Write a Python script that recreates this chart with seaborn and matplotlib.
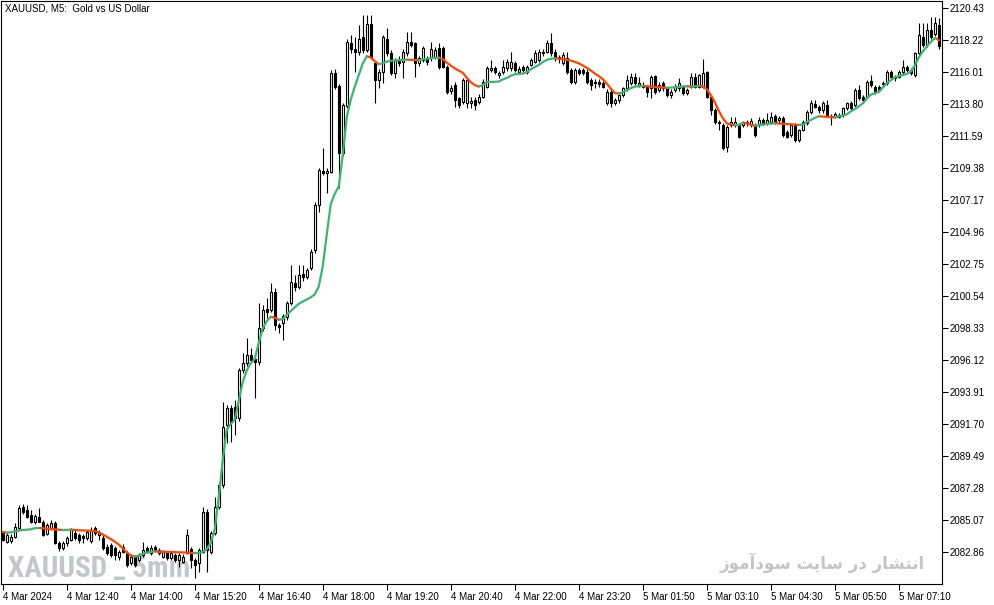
import numpy as np
import pandas as pd
import matplotlib
matplotlib.use("Agg")
import matplotlib.pyplot as plt
import seaborn as sns

# XAUUSD M5, 4 Mar 2024 11:20 -> 5 Mar 2024 07:55 (235 bars)
tick_bars = [0, 16, 32, 48, 64, 80, 96, 112, 128, 144, 160, 176, 192, 208, 224]
tick_labels = ["4 Mar 2024", "4 Mar 12:40", "4 Mar 14:00", "4 Mar 15:20", "4 Mar 16:40",
               "4 Mar 18:00", "4 Mar 19:20", "4 Mar 20:40", "4 Mar 22:00", "4 Mar 23:20",
               "5 Mar 01:50", "5 Mar 03:10", "5 Mar 04:30", "5 Mar 05:50", "5 Mar 07:10"]
price_ticks = [2082.86, 2085.07, 2087.28, 2089.49, 2091.70, 2093.91, 2096.12, 2098.33, 2100.54,
               2102.75, 2104.96, 2107.17, 2109.38, 2111.59, 2113.80, 2116.01, 2118.22, 2120.43]

opens = [
    2084.15, 2083.57, 2083.60, 2083.90, 2084.50, 2086.00, 2085.75, 2085.40, 2084.96, 2085.30,
    2084.96, 2084.10, 2084.50, 2084.84, 2083.50, 2083.11, 2083.46, 2083.69, 2084.20, 2084.03,
    2083.95, 2083.80, 2083.60, 2084.49, 2084.03, 2083.80, 2083.23, 2083.34, 2083.11, 2082.54,
    2083.23, 2082.77, 2082.08, 2082.54, 2082.31, 2082.65, 2083.11, 2082.77, 2083.23, 2082.77,
    2082.54, 2082.77, 2082.42, 2082.65, 2082.31, 2082.19, 2082.82, 2083.05, 2082.31, 2082.08,
    2082.89, 2085.65, 2082.89, 2084.15, 2086.00, 2087.49, 2091.64, 2092.79, 2092.90, 2092.10,
    2095.43, 2095.89, 2096.47, 2096.20, 2095.95, 2098.31, 2099.62, 2099.58, 2100.84, 2098.54,
    2098.66, 2099.12, 2100.04, 2101.46, 2101.18, 2102.06, 2101.87, 2102.45, 2103.70, 2106.82,
    2109.20, 2109.00, 2109.13, 2115.92, 2115.04, 2110.39, 2113.66, 2117.99, 2117.57, 2117.41,
    2118.45, 2117.53, 2119.32, 2116.61, 2115.46, 2116.03, 2118.26, 2117.30, 2115.96, 2116.84,
    2116.72, 2117.30, 2118.10, 2117.99, 2116.61, 2116.84, 2116.95, 2116.95, 2117.07, 2117.64,
    2117.64, 2116.38, 2114.72, 2115.11, 2114.19, 2113.96, 2113.84, 2113.90, 2114.07, 2113.96,
    2114.30, 2115.00, 2116.15, 2116.26, 2115.80, 2116.03, 2116.26, 2116.26, 2116.61, 2116.03,
    2116.38, 2116.03, 2116.50, 2116.72, 2116.84, 2117.41, 2117.41, 2118.03, 2117.41, 2117.07,
    2116.61, 2116.95, 2116.15, 2115.34, 2116.15, 2116.15, 2116.03, 2115.46, 2115.34, 2115.34,
    2115.23, 2113.85, 2114.65, 2113.89, 2114.08, 2114.42, 2114.88, 2115.23, 2115.69, 2115.10,
    2115.00, 2115.00, 2114.88, 2115.73, 2114.77, 2115.23, 2114.88, 2114.42, 2114.77, 2114.88,
    2115.00, 2114.54, 2115.00, 2115.69, 2115.00, 2115.00, 2116.03, 2114.31, 2113.39, 2112.47,
    2112.35, 2110.85, 2112.35, 2112.35, 2112.35, 2112.35, 2112.58, 2112.35, 2112.35, 2112.35,
    2112.70, 2112.47, 2112.58, 2112.97, 2112.69, 2112.81, 2111.89, 2111.66, 2112.35, 2111.31,
    2112.00, 2112.46, 2113.27, 2113.78, 2113.61, 2113.38, 2113.73, 2112.97, 2112.92, 2113.04,
    2113.04, 2113.50, 2113.84, 2113.73, 2114.77, 2114.30, 2114.30, 2115.41, 2114.99, 2114.99,
    2115.18, 2115.23, 2116.03, 2115.69, 2115.69, 2116.03, 2116.38, 2116.15, 2115.80, 2117.30,
    2118.45, 2117.87, 2118.91, 2118.63, 2119.25]
highs = [
    2084.30, 2084.20, 2084.10, 2084.85, 2086.10, 2086.15, 2086.10, 2085.76, 2085.50, 2085.87,
    2085.10, 2084.85, 2085.07, 2085.00, 2083.60, 2083.60, 2083.95, 2084.55, 2084.45, 2084.15,
    2084.10, 2084.40, 2084.61, 2084.65, 2084.40, 2084.00, 2083.40, 2083.50, 2083.30, 2083.00,
    2083.40, 2082.90, 2082.70, 2082.65, 2082.80, 2083.57, 2083.30, 2083.34, 2083.34, 2083.15,
    2083.00, 2082.90, 2082.90, 2082.77, 2082.80, 2082.70, 2084.43, 2083.20, 2082.45, 2083.15,
    2086.00, 2085.80, 2084.30, 2086.69, 2087.70, 2093.25, 2093.00, 2093.00, 2093.36, 2095.60,
    2096.58, 2097.62, 2096.93, 2096.60, 2100.04, 2099.90, 2100.38, 2101.47, 2101.10, 2098.70,
    2099.30, 2100.20, 2102.70, 2102.00, 2102.68, 2102.68, 2102.50, 2103.80, 2107.00, 2109.40,
    2110.74, 2109.40, 2116.15, 2116.20, 2115.20, 2113.90, 2118.30, 2118.56, 2118.45, 2119.25,
    2119.94, 2119.94, 2119.94, 2116.80, 2116.20, 2118.56, 2119.02, 2117.50, 2117.00, 2117.10,
    2117.60, 2118.79, 2118.79, 2118.10, 2117.10, 2117.80, 2117.10, 2118.10, 2117.70, 2117.99,
    2117.80, 2116.50, 2115.10, 2115.30, 2114.30, 2115.60, 2115.60, 2114.30, 2114.30, 2114.50,
    2115.50, 2116.40, 2116.84, 2116.40, 2116.10, 2116.84, 2116.90, 2117.41, 2116.80, 2116.40,
    2116.50, 2116.50, 2117.00, 2117.50, 2117.60, 2117.60, 2118.20, 2118.68, 2117.60, 2117.20,
    2117.40, 2117.41, 2116.30, 2116.30, 2116.30, 2116.26, 2116.20, 2115.60, 2115.50, 2115.50,
    2115.40, 2114.80, 2114.80, 2114.20, 2114.50, 2115.00, 2115.80, 2115.92, 2115.92, 2115.69,
    2115.30, 2115.10, 2115.80, 2115.80, 2115.30, 2115.40, 2115.00, 2114.80, 2115.20, 2115.57,
    2115.10, 2114.90, 2115.96, 2115.92, 2115.90, 2116.89, 2116.10, 2114.40, 2113.50, 2112.70,
    2112.50, 2112.35, 2112.93, 2112.93, 2112.47, 2112.65, 2112.70, 2112.80, 2112.47, 2112.93,
    2112.80, 2113.16, 2113.27, 2113.10, 2113.00, 2112.95, 2112.00, 2112.50, 2112.46, 2112.10,
    2112.70, 2113.40, 2114.07, 2114.07, 2113.70, 2114.00, 2114.07, 2113.10, 2113.25, 2113.15,
    2113.60, 2113.95, 2114.00, 2114.90, 2115.11, 2114.40, 2115.45, 2115.80, 2115.10, 2115.10,
    2115.40, 2116.15, 2116.15, 2115.80, 2116.15, 2116.84, 2116.50, 2116.30, 2117.40, 2119.37,
    2119.37, 2119.37, 2119.83, 2119.83, 2119.71]
lows = [
    2083.60, 2083.50, 2083.45, 2083.85, 2084.40, 2085.50, 2085.20, 2084.85, 2084.80, 2084.90,
    2083.95, 2084.00, 2084.40, 2083.40, 2082.90, 2083.00, 2083.30, 2083.60, 2083.70, 2083.50,
    2083.46, 2083.70, 2083.50, 2084.00, 2083.69, 2083.00, 2082.65, 2082.50, 2082.31, 2082.31,
    2082.77, 2081.84, 2081.96, 2081.84, 2082.20, 2082.54, 2082.77, 2082.65, 2082.90, 2082.65,
    2082.42, 2082.31, 2082.31, 2082.19, 2081.84, 2082.08, 2082.70, 2081.74, 2081.05, 2081.50,
    2082.80, 2081.51, 2082.70, 2084.00, 2085.80, 2087.30, 2090.37, 2090.49, 2090.95, 2091.90,
    2095.20, 2095.70, 2095.90, 2093.48, 2095.80, 2098.10, 2099.00, 2099.40, 2098.20, 2097.97,
    2097.51, 2098.90, 2099.90, 2100.90, 2101.00, 2101.60, 2101.70, 2102.30, 2103.50, 2106.36,
    2108.90, 2107.67, 2109.00, 2114.80, 2107.97, 2110.20, 2113.50, 2117.30, 2116.03, 2117.20,
    2117.30, 2117.40, 2116.90, 2113.84, 2114.88, 2115.23, 2117.10, 2115.80, 2115.57, 2116.40,
    2115.57, 2117.10, 2117.70, 2115.69, 2116.40, 2116.70, 2116.50, 2116.80, 2116.90, 2116.20,
    2116.26, 2114.50, 2114.50, 2113.61, 2113.50, 2113.80, 2113.50, 2113.50, 2113.38, 2113.80,
    2114.20, 2114.90, 2116.00, 2115.90, 2115.60, 2115.90, 2116.10, 2116.10, 2116.00, 2115.90,
    2116.00, 2115.90, 2116.40, 2116.60, 2116.70, 2117.10, 2117.30, 2117.10, 2116.80, 2116.60,
    2116.50, 2115.90, 2115.20, 2115.20, 2115.80, 2115.80, 2115.20, 2114.76, 2114.90, 2115.00,
    2114.90, 2113.70, 2113.62, 2113.70, 2113.90, 2114.30, 2114.70, 2115.10, 2115.10, 2115.00,
    2114.90, 2114.31, 2114.19, 2114.50, 2114.60, 2114.70, 2114.30, 2114.19, 2114.60, 2114.70,
    2114.40, 2114.40, 2114.90, 2114.90, 2114.90, 2114.90, 2114.20, 2113.04, 2112.40, 2112.01,
    2110.62, 2110.51, 2112.20, 2112.20, 2111.43, 2112.20, 2112.30, 2112.20, 2111.55, 2112.20,
    2112.35, 2112.35, 2112.45, 2112.45, 2112.50, 2111.55, 2111.43, 2111.55, 2111.20, 2111.20,
    2111.90, 2112.35, 2113.10, 2113.50, 2113.20, 2113.20, 2112.90, 2112.35, 2112.80, 2112.80,
    2112.90, 2113.40, 2113.40, 2113.60, 2114.07, 2113.84, 2114.20, 2115.00, 2114.50, 2114.60,
    2115.00, 2115.10, 2115.57, 2115.41, 2115.57, 2115.90, 2116.03, 2115.80, 2115.69, 2117.20,
    2117.70, 2117.70, 2118.30, 2118.50, 2117.60]
closes = [
    2083.69, 2084.03, 2083.90, 2084.60, 2085.87, 2085.65, 2085.30, 2084.96, 2085.35, 2084.96,
    2084.03, 2084.73, 2084.84, 2083.46, 2083.11, 2083.46, 2083.80, 2084.38, 2083.80, 2083.69,
    2083.80, 2084.27, 2084.38, 2084.15, 2084.27, 2083.11, 2082.77, 2082.65, 2082.65, 2082.88,
    2082.88, 2081.96, 2082.54, 2081.96, 2082.65, 2083.00, 2082.88, 2083.11, 2083.00, 2083.00,
    2082.88, 2082.42, 2082.77, 2082.31, 2082.65, 2082.54, 2084.04, 2082.31, 2081.97, 2083.00,
    2085.65, 2083.00, 2084.15, 2086.00, 2087.49, 2091.52, 2092.79, 2091.87, 2092.10, 2095.43,
    2095.89, 2096.47, 2096.12, 2095.95, 2098.31, 2099.58, 2099.45, 2100.84, 2098.54, 2098.38,
    2099.16, 2100.04, 2101.50, 2101.18, 2101.99, 2101.87, 2102.33, 2103.60, 2106.82, 2109.24,
    2109.00, 2109.20, 2115.92, 2115.00, 2110.39, 2113.73, 2118.10, 2117.57, 2117.41, 2118.26,
    2117.53, 2119.32, 2117.07, 2115.46, 2116.03, 2118.45, 2117.30, 2115.96, 2116.84, 2116.61,
    2117.41, 2118.10, 2117.87, 2116.61, 2116.95, 2117.64, 2116.72, 2117.57, 2117.53, 2116.38,
    2116.38, 2114.65, 2114.88, 2114.07, 2113.73, 2115.46, 2115.46, 2114.00, 2113.73, 2114.30,
    2115.34, 2116.26, 2116.26, 2116.03, 2115.92, 2116.38, 2116.72, 2116.72, 2116.15, 2116.20,
    2116.15, 2116.38, 2116.84, 2117.30, 2117.41, 2117.30, 2117.99, 2117.30, 2116.95, 2116.90,
    2117.18, 2116.03, 2115.34, 2116.15, 2115.92, 2115.92, 2115.34, 2115.11, 2115.23, 2115.20,
    2115.00, 2114.65, 2113.85, 2114.08, 2114.42, 2114.88, 2115.46, 2115.69, 2115.23, 2115.23,
    2115.11, 2114.65, 2115.69, 2114.65, 2115.11, 2114.88, 2114.42, 2114.65, 2115.00, 2115.23,
    2114.54, 2114.77, 2115.69, 2115.00, 2115.80, 2115.96, 2114.31, 2113.39, 2112.58, 2112.58,
    2110.74, 2112.24, 2112.58, 2112.58, 2111.55, 2112.51, 2112.47, 2112.65, 2111.66, 2112.70,
    2112.47, 2112.70, 2112.93, 2112.58, 2112.81, 2111.66, 2111.54, 2112.35, 2111.31, 2112.00,
    2112.58, 2113.27, 2113.84, 2113.61, 2113.38, 2113.84, 2113.04, 2112.88, 2113.11, 2112.92,
    2113.50, 2113.84, 2113.50, 2114.77, 2114.19, 2114.07, 2115.34, 2115.11, 2114.65, 2114.77,
    2115.27, 2116.03, 2115.69, 2115.57, 2116.03, 2116.38, 2116.15, 2115.92, 2117.30, 2118.56,
    2117.87, 2118.91, 2118.45, 2119.37, 2117.80]
# smoothed moving average shown on the chart
ma_values = [
    2084.24, 2084.20, 2084.22, 2084.28, 2084.34, 2084.38, 2084.40, 2084.42, 2084.50, 2084.52,
    2084.50, 2084.47, 2084.45, 2084.42, 2084.40, 2084.38, 2084.39, 2084.40, 2084.38, 2084.36,
    2084.35, 2084.34, 2084.33, 2084.30, 2084.22, 2084.08, 2083.92, 2083.76, 2083.58, 2083.38,
    2083.12, 2082.85, 2082.62, 2082.54, 2082.62, 2082.74, 2082.82, 2082.87, 2082.90, 2082.89,
    2082.88, 2082.87, 2082.86, 2082.85, 2082.84, 2082.83, 2082.82, 2082.80, 2082.79, 2082.80,
    2082.86, 2083.05, 2083.50, 2084.40, 2086.60, 2089.20, 2091.30, 2091.70, 2092.00, 2093.30,
    2094.60, 2095.40, 2095.90, 2096.20, 2097.30, 2098.30, 2098.80, 2099.10, 2099.05, 2098.90,
    2098.95, 2099.25, 2099.50, 2099.75, 2100.00, 2100.15, 2100.30, 2100.45, 2100.65, 2101.20,
    2102.60, 2104.80, 2106.90, 2107.60, 2108.10, 2110.30, 2112.90, 2114.10, 2115.00, 2115.80,
    2116.60, 2117.10, 2117.00, 2116.75, 2116.55, 2116.62, 2116.72, 2116.78, 2116.80, 2116.82,
    2116.84, 2116.86, 2116.85, 2116.83, 2116.82, 2116.88, 2116.92, 2116.95, 2116.98, 2117.00,
    2116.90, 2116.65, 2116.45, 2116.25, 2116.10, 2115.95, 2115.60, 2115.30, 2115.10, 2115.00,
    2115.10, 2115.30, 2115.32, 2115.33, 2115.35, 2115.50, 2115.60, 2115.75, 2115.85, 2115.88,
    2115.90, 2116.00, 2116.20, 2116.35, 2116.50, 2116.70, 2116.85, 2116.92, 2116.95, 2116.93,
    2116.90, 2116.85, 2116.80, 2116.70, 2116.60, 2116.45, 2116.30, 2116.10, 2115.90, 2115.72,
    2115.50, 2115.20, 2114.85, 2114.55, 2114.52, 2114.60, 2114.75, 2114.90, 2115.00, 2115.02,
    2115.04, 2115.03, 2115.00, 2114.98, 2114.96, 2114.94, 2114.92, 2114.93, 2114.95, 2114.98,
    2115.00, 2115.02, 2115.00, 2115.02, 2115.05, 2115.00, 2114.80, 2114.40, 2113.90, 2113.30,
    2112.80, 2112.45, 2112.38, 2112.33, 2112.36, 2112.50, 2112.45, 2112.35, 2112.30, 2112.34,
    2112.38, 2112.42, 2112.45, 2112.47, 2112.45, 2112.43, 2112.41, 2112.39, 2112.37, 2112.35,
    2112.40, 2112.55, 2112.70, 2112.85, 2112.95, 2112.93, 2112.91, 2112.89, 2112.87, 2112.95,
    2113.00, 2113.10, 2113.30, 2113.45, 2113.65, 2113.85, 2114.20, 2114.45, 2114.55, 2114.65,
    2114.95, 2115.25, 2115.45, 2115.65, 2115.72, 2115.80, 2115.90, 2116.05, 2116.50, 2117.05,
    2117.45, 2117.80, 2118.10, 2118.35, 2118.20]

df = pd.DataFrame({"open": opens, "high": highs, "low": lows, "close": closes})
df["bar"] = np.arange(len(df))
df["bull"] = df["close"] >= df["open"]
df["body_low"] = df[["open", "close"]].min(axis=1)
df["body_h"] = (df["close"] - df["open"]).abs()

# split the MA into runs of rising / falling segments
ma = np.array(ma_values)
runs = []
run_id = 0
prev = None
for i in range(1, len(ma)):
    d = "up" if ma[i] >= ma[i - 1] else "down"
    if d != prev:
        run_id += 1
        runs.append({"run": run_id, "dir": d, "bar": i - 1, "ma": ma[i - 1]})
        prev = d
    runs.append({"run": run_id, "dir": d, "bar": i, "ma": ma[i]})
ma_df = pd.DataFrame(runs)

sns.set_theme(style="white")
plt.rcParams["font.family"] = ["Liberation Sans", "DejaVu Sans"]

fig = plt.figure(figsize=(9.94, 6.05), dpi=100)
ax = fig.add_axes([1 / 994, 1 - 584 / 605, 940.5 / 994, 583 / 605])

# watermarks sit behind the candles
ax.text(0.0075, 0.012, "XAUUSD _ 5min", transform=ax.transAxes, ha="left", va="baseline",
        fontsize=21, fontweight="bold", color="#c3c6ca",
        family=["Roboto Condensed", "Roboto", "DejaVu Sans"], zorder=0.5)
fa_text = ("\ufeaf\ufeee\ufee3\ufe81\ufea9\ufeee\ufeb3" + " " +
           "\ufe96\ufef3\ufe8e\ufeb3" + " " +
           "\ufead\ufea9" + " " +
           "\ufead\ufe8e\ufeb8\ufe98\ufee7\ufe8d")
ax.text(0.9825, 0.026, fa_text, transform=ax.transAxes, ha="right", va="baseline",
        fontsize=12, fontweight="bold", color="#c4c4c4", family=["DejaVu Sans"], zorder=0.5)

# candles
ax.vlines(df["bar"], df["low"], df["high"], color="black", linewidth=0.8, zorder=2)
ax.bar(df["bar"], df["body_h"].clip(lower=0.015), bottom=df["body_low"], width=0.55,
       color=np.where(df["bull"], "white", "black"), edgecolor="black", linewidth=0.8, zorder=3)

sns.lineplot(data=ma_df, x="bar", y="ma", hue="dir", units="run", estimator=None,
             palette={"up": "#3cb371", "down": "#ff4500"}, linewidth=1.6, legend=False,
             sort=False, ax=ax, zorder=4)

ax.set_xlim(-0.4, 234.6)
ax.set_ylim(2080.65, 2120.91)
ax.set_xlabel("")
ax.set_ylabel("")

ax.yaxis.tick_right()
ax.set_yticks(price_ticks)
ax.set_yticklabels([f"{v:.2f}" for v in price_ticks])
ax.set_xticks(tick_bars)
ax.set_xticklabels(tick_labels, ha="left")
ax.tick_params(axis="both", direction="out", length=4, width=0.8, color="black",
               labelsize=7, labelcolor="black", pad=1.5)
ax.tick_params(axis="y", left=False, right=True)
ax.tick_params(axis="x", bottom=True, top=False)

for s in ax.spines.values():
    s.set_visible(True)
    s.set_color("black")
    s.set_linewidth(0.8)

ax.text(0.004, 0.995, "XAUUSD, M5:  Gold vs US Dollar", transform=ax.transAxes,
        ha="left", va="top", fontsize=7, color="black")

fig.savefig("out.png", dpi=100, facecolor="white")
